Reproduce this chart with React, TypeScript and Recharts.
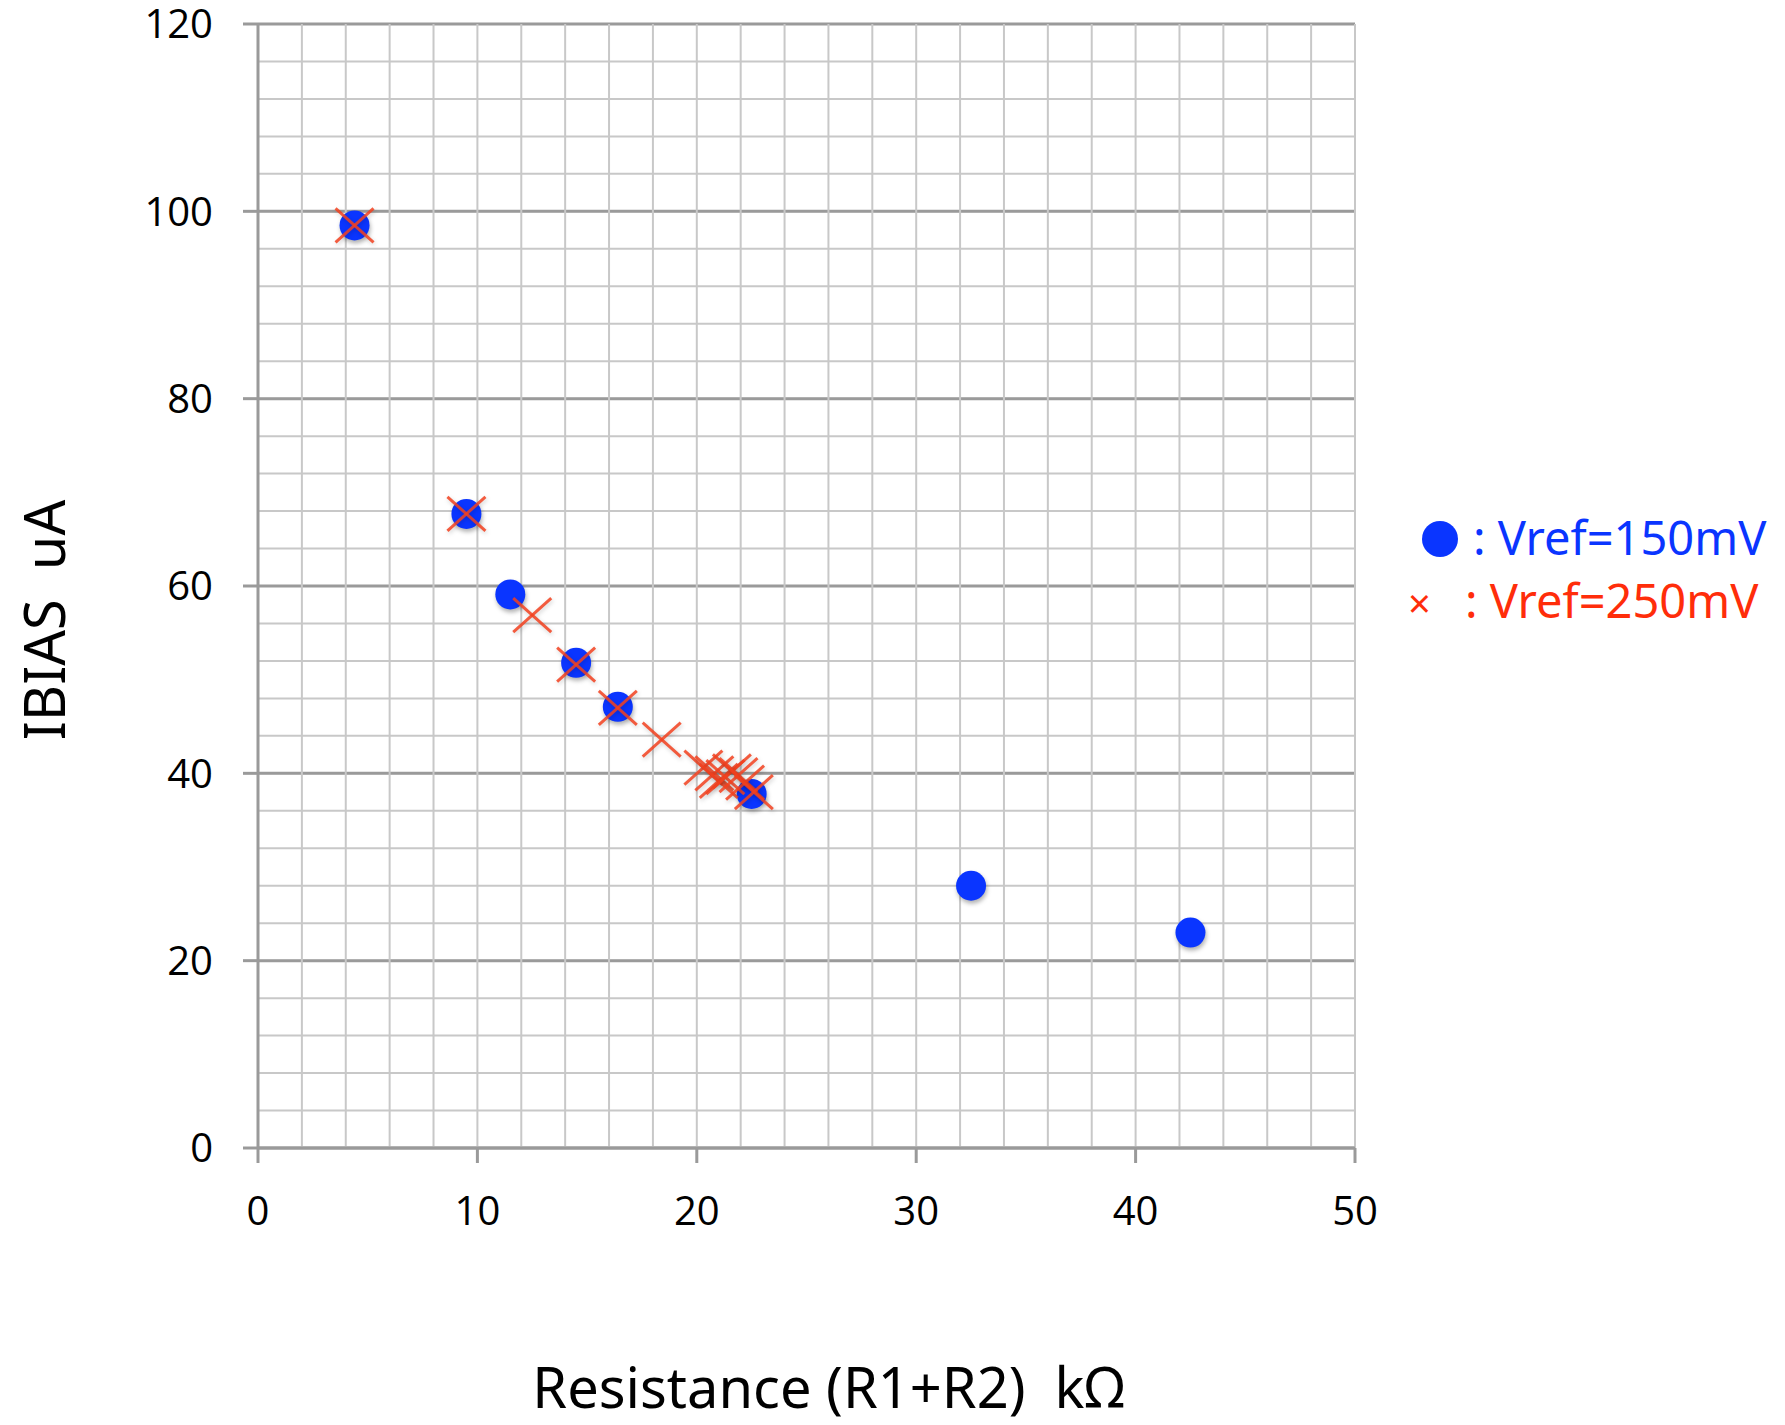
import React from 'react'
import { ScatterChart, Scatter, XAxis, YAxis, CartesianGrid, Label, ReferenceLine } from 'recharts'

// Vref = 150mV (blue dots)
const res150 = [4.4, 9.5, 11.5, 14.5, 16.4, 22.5, 32.5, 42.5]
const ibias150 = [98.5, 67.7, 59.1, 51.8, 47.1, 37.8, 28.0, 23.0]

// Vref = 250mV (red crosses)
const res250 = [4.4, 9.5, 12.5, 14.5, 16.4, 18.4, 20.3, 20.8, 21.0, 21.3, 21.6, 21.9, 22.2, 22.6]
const ibias250 = [98.5, 67.7, 56.9, 51.6, 47.0, 43.6, 40.6, 40.0, 39.2, 39.6, 40.2, 39.8, 39.0, 38.0]

const xTicks = [0, 10, 20, 30, 40, 50]
const yTicks = [0, 20, 40, 60, 80, 100, 120]
const xMinor = [2, 4, 6, 8, 10, 12, 14, 16, 18, 20, 22, 24, 26, 28, 30, 32, 34, 36, 38, 40, 42, 44, 46, 48, 50]
const yMinor = [0, 4, 8, 12, 16, 20, 24, 28, 32, 36, 40, 44, 48, 52, 56, 60, 64, 68, 72, 76, 80, 84, 88, 92, 96, 100, 104, 108, 112, 116, 120]

const data150 = res150.map((r, k) => ({ r, i: ibias150[k] }))
const data250 = res250.map((r, k) => ({ r, i: ibias250[k] }))

const BLUE = '#0a35ff'
const RED = '#f2411f'
const titleFont = '"Noto Sans", "Liberation Sans", sans-serif'
const tickFont = '"Open Sans", sans-serif'

const BlueDot = (props: any) => (
  <circle
    cx={props.cx}
    cy={props.cy}
    r={15}
    fill={BLUE}
    style={{ filter: 'drop-shadow(1px 3px 2px rgba(0,0,0,0.3))' }}
  />
)

const RedCross = (props: any) => {
  const { cx, cy } = props
  return (
    <g stroke={RED} strokeWidth={3} strokeOpacity={0.85} style={{ filter: 'drop-shadow(1px 2px 2px rgba(0,0,0,0.2))' }}>
      <line x1={cx - 19} y1={cy - 17} x2={cx + 19} y2={cy + 17} />
      <line x1={cx - 19} y1={cy + 17} x2={cx + 19} y2={cy - 17} />
    </g>
  )
}

export default function App() {
  return (
    <div style={{ position: 'absolute', left: 0, top: 0, width: 1785, height: 1425, background: 'white' }}>
      <ScatterChart width={1785} height={1425} margin={{ top: 24, right: 430, bottom: 0, left: 0 }}>
        {/* hidden axis that only carries the minor horizontal grid positions */}
        <YAxis yAxisId="minor" type="number" domain={[0, 120]} ticks={yMinor} interval={0} allowDataOverflow hide />
        <CartesianGrid yAxisId="minor" stroke="#c8c8c8" strokeWidth={2} vertical={false} />
        {xMinor.map((v) => (
          <ReferenceLine key={v} x={v} stroke="#c8c8c8" strokeWidth={2} />
        ))}
        <CartesianGrid stroke="#9a9a9a" strokeWidth={3} vertical={false} />
        <XAxis
          type="number"
          dataKey="r"
          domain={[0, 50]}
          ticks={xTicks}
          interval={0}
          height={277}
          tickSize={15}
          tickMargin={34}
          axisLine={{ stroke: '#9a9a9a', strokeWidth: 3 }}
          tickLine={{ stroke: '#9a9a9a', strokeWidth: 3 }}
          tick={{ fill: '#000', fontSize: 40, fontFamily: tickFont }}
        >
          <Label
            content={({ viewBox }: any) => (
              <text
                x={viewBox.x + viewBox.width / 2 + 22}
                y={viewBox.y + viewBox.height - 17}
                textAnchor="middle"
                fontSize={56}
                fontFamily={titleFont}
                fill="#000"
                style={{ whiteSpace: 'pre' }}
              >
                Resistance (R1+R2)  kΩ
              </text>
            )}
          />
        </XAxis>
        <YAxis
          type="number"
          dataKey="i"
          domain={[0, 120]}
          ticks={yTicks}
          interval={0}
          width={258}
          tickSize={15}
          tickMargin={30}
          axisLine={{ stroke: '#9a9a9a', strokeWidth: 3 }}
          tickLine={{ stroke: '#9a9a9a', strokeWidth: 3 }}
          tick={{ fill: '#000', fontSize: 40, fontFamily: tickFont }}
        >
          <Label
            content={({ viewBox }: any) => {
              const cx = viewBox.x + 65
              const cy = viewBox.y + viewBox.height / 2 + 34
              return (
                <text
                  x={cx}
                  y={cy}
                  transform={`rotate(-90, ${cx}, ${cy})`}
                  textAnchor="middle"
                  fontSize={56}
                  fontFamily={titleFont}
                  fill="#000"
                  style={{ whiteSpace: 'pre' }}
                >
                  IBIAS  uA
                </text>
              )
            }}
          />
        </YAxis>
        <Scatter name="Vref=150mV" data={data150} shape={BlueDot} isAnimationActive={false} />
        <Scatter name="Vref=250mV" data={data250} shape={RedCross} isAnimationActive={false} />
      </ScatterChart>
      <svg width={400} height={140} style={{ position: 'absolute', left: 1385, top: 500 }}>
        <circle cx={55} cy={39} r={18} fill={BLUE} />
        <text x={88} y={55} fontSize={47} fontFamily={titleFont} fill={BLUE} style={{ whiteSpace: 'pre' }}>
          : Vref=150mV
        </text>
        <text x={23} y={118} fontSize={40} fontFamily={titleFont} fill="#ff2d0a">
          ×
        </text>
        <text x={80} y={118} fontSize={47} fontFamily={titleFont} fill="#ff2d0a" style={{ whiteSpace: 'pre' }}>
          : Vref=250mV
        </text>
      </svg>
    </div>
  )
}
